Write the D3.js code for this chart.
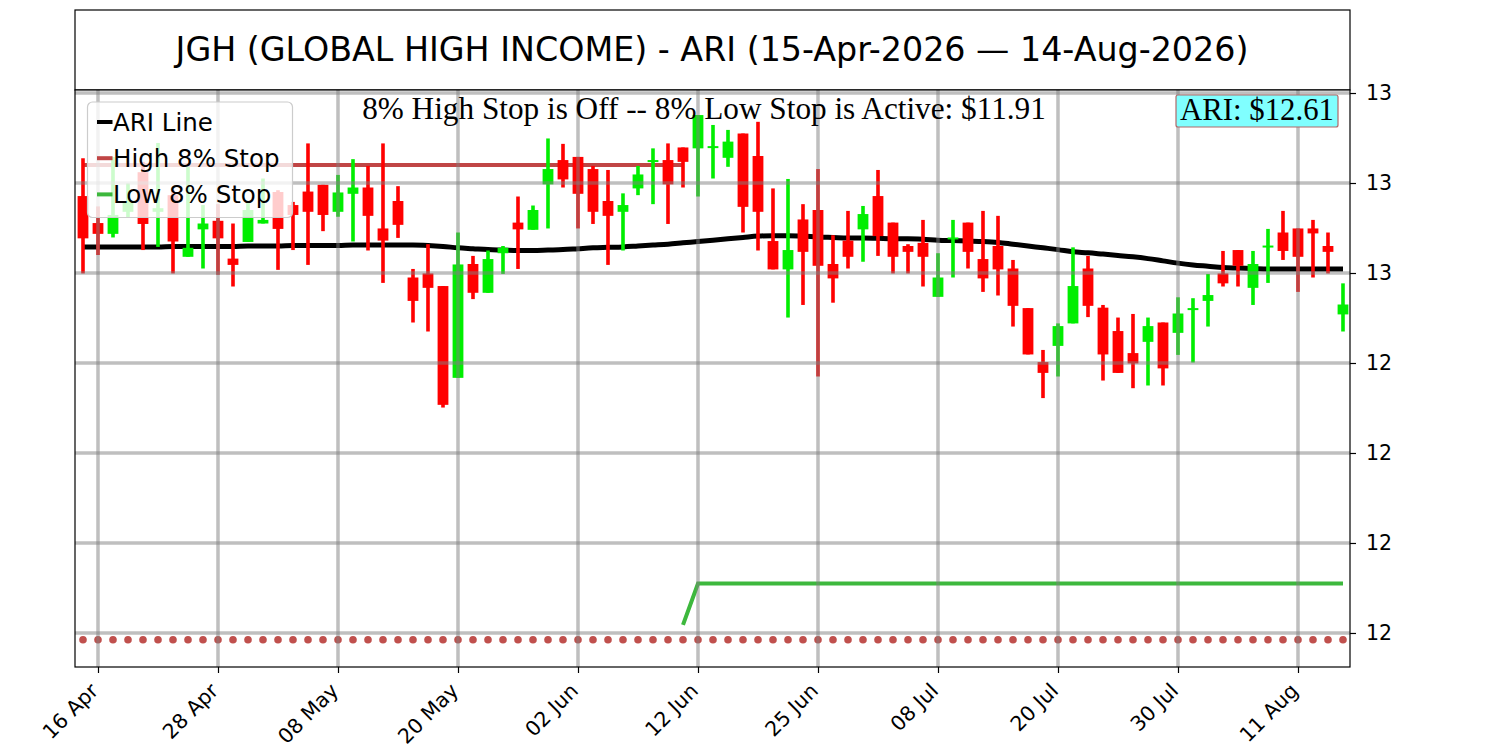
<!DOCTYPE html>
<html><head><meta charset="utf-8">
<script src="https://cdn.jsdelivr.net/npm/d3@7"></script>
<style>body{margin:0;background:#fff}svg{display:block}</style>
</head><body><svg id="c" width="1500" height="750"></svg>
<script>
const dates = [
"2026-04-15","2026-04-16","2026-04-17","2026-04-20","2026-04-21","2026-04-22","2026-04-23","2026-04-24","2026-04-27","2026-04-28","2026-04-29","2026-04-30",
"2026-05-01","2026-05-04","2026-05-05","2026-05-06","2026-05-07","2026-05-08","2026-05-11","2026-05-12","2026-05-13","2026-05-14","2026-05-15","2026-05-18","2026-05-19","2026-05-20","2026-05-21","2026-05-22","2026-05-26","2026-05-27","2026-05-28","2026-05-29",
"2026-06-01","2026-06-02","2026-06-03","2026-06-04","2026-06-05","2026-06-08","2026-06-09","2026-06-10","2026-06-11","2026-06-12","2026-06-15","2026-06-16","2026-06-17","2026-06-18","2026-06-22","2026-06-23","2026-06-24","2026-06-25","2026-06-26","2026-06-29","2026-06-30",
"2026-07-01","2026-07-02","2026-07-06","2026-07-07","2026-07-08","2026-07-09","2026-07-10","2026-07-13","2026-07-14","2026-07-15","2026-07-16","2026-07-17","2026-07-20","2026-07-21","2026-07-22","2026-07-23","2026-07-24","2026-07-27","2026-07-28","2026-07-29","2026-07-30","2026-07-31",
"2026-08-03","2026-08-04","2026-08-05","2026-08-06","2026-08-07","2026-08-10","2026-08-11","2026-08-12","2026-08-13","2026-08-14"];

const opens = [
12.771,12.711,12.687,12.736,12.824,12.736,12.773,12.636,12.697,12.716,
12.632,12.669,12.710,12.780,12.751,12.781,12.796,12.736,12.776,12.790,
12.699,12.760,12.590,12.599,12.571,12.367,12.620,12.556,12.644,12.712,
12.696,12.797,12.851,12.858,12.831,12.760,12.736,12.788,12.847,12.851,
12.879,12.877,12.878,12.856,12.910,12.860,12.671,12.608,12.719,12.740,
12.620,12.672,12.697,12.771,12.712,12.660,12.667,12.547,12.676,12.712,
12.631,12.660,12.610,12.522,12.402,12.438,12.488,12.610,12.523,12.471,
12.422,12.447,12.490,12.467,12.520,12.538,12.599,12.651,12.567,12.657,
12.690,12.699,12.699,12.660,12.508];
const highs = [
12.855,12.748,12.858,12.799,12.847,12.889,12.784,12.836,12.751,12.753,
12.710,12.758,12.810,12.784,12.758,12.888,12.796,12.818,12.853,12.838,
12.888,12.793,12.609,12.664,12.571,12.690,12.638,12.650,12.660,12.770,
12.750,12.899,12.887,12.858,12.838,12.829,12.777,12.838,12.877,12.888,
12.879,12.951,12.929,12.918,12.910,12.936,12.788,12.809,12.753,12.831,
12.684,12.738,12.749,12.829,12.712,12.664,12.718,12.644,12.718,12.712,
12.738,12.727,12.629,12.522,12.429,12.488,12.657,12.638,12.529,12.501,
12.509,12.501,12.490,12.546,12.544,12.598,12.649,12.651,12.649,12.698,
12.738,12.699,12.718,12.690,12.577];
const lows = [
12.599,12.640,12.679,12.724,12.651,12.658,12.599,12.636,12.610,12.596,
12.570,12.669,12.710,12.607,12.651,12.618,12.693,12.725,12.670,12.650,
12.578,12.678,12.490,12.470,12.301,12.367,12.542,12.556,12.598,12.609,
12.696,12.699,12.790,12.699,12.709,12.618,12.650,12.773,12.753,12.709,
12.790,12.770,12.810,12.836,12.690,12.650,12.608,12.501,12.529,12.370,
12.534,12.610,12.625,12.638,12.599,12.599,12.570,12.547,12.590,12.610,
12.558,12.550,12.481,12.419,12.322,12.370,12.488,12.502,12.361,12.378,
12.344,12.350,12.350,12.418,12.401,12.481,12.570,12.570,12.529,12.578,
12.629,12.558,12.590,12.599,12.470];
const closes = [
12.677,12.687,12.729,12.758,12.709,12.744,12.670,12.656,12.710,12.677,
12.618,12.740,12.718,12.698,12.729,12.736,12.729,12.779,12.790,12.727,
12.672,12.707,12.538,12.567,12.307,12.619,12.556,12.631,12.656,12.697,
12.740,12.831,12.808,12.776,12.736,12.727,12.751,12.819,12.851,12.797,
12.847,12.951,12.882,12.892,12.747,12.736,12.608,12.651,12.647,12.616,
12.588,12.636,12.731,12.682,12.636,12.647,12.636,12.590,12.679,12.647,
12.588,12.608,12.527,12.419,12.378,12.482,12.571,12.527,12.419,12.378,
12.399,12.482,12.388,12.510,12.522,12.551,12.577,12.616,12.620,12.661,
12.649,12.636,12.688,12.647,12.530];
const ariLine = [
12.658,12.658,12.658,12.658,12.658,12.658,12.659,12.659,12.659,12.659,
12.659,12.660,12.660,12.660,12.661,12.661,12.661,12.661,12.662,12.662,
12.662,12.662,12.662,12.661,12.659,12.656,12.654,12.652,12.651,12.650,
12.650,12.651,12.652,12.654,12.656,12.657,12.658,12.660,12.662,12.664,
12.667,12.670,12.673,12.676,12.679,12.682,12.683,12.683,12.682,12.680,
12.679,12.678,12.678,12.677,12.676,12.676,12.675,12.673,12.672,12.671,
12.670,12.668,12.664,12.660,12.656,12.652,12.647,12.645,12.642,12.639,
12.636,12.632,12.627,12.622,12.618,12.615,12.612,12.611,12.610,12.609,
12.609,12.609,12.609,12.609,12.609];
// high stop active through 11-Jun, low stop from 11-Jun on
const highStopValue = 12.84;
const highStopLastIndex = 40;
const lowStopPoints = [[40, 11.818], [41, 11.91], [84, 11.91]];
const offMarkerValue = 11.785;
const tickDates = ["2026-04-16","2026-04-28","2026-05-08","2026-05-20","2026-06-02","2026-06-12","2026-06-25","2026-07-08","2026-07-20","2026-07-30","2026-08-11"];
const yTicks = [11.8, 12.0, 12.2, 12.4, 12.6, 12.8, 13.0];
const titleText = "JGH (GLOBAL HIGH INCOME) - ARI (15-Apr-2026 \u2014 14-Aug-2026)";
const subtitleText = "8% High Stop is Off -- 8% Low Stop is Active: $11.91";
const ariLabel = "ARI: $12.61";
const legendItems = [["ARI Line","#000000"],["High 8% Stop","#c04545"],["Low 8% Stop","#3db83d"]];

const svg = d3.select("#c");
const L = 75, R = 1350, T = 90, B = 667;
const x = d3.scaleLinear().domain([-0.533, 84.467]).range([L, R]);
const y = d3.scaleLinear().domain([11.7244, 13.0067]).range([B, T]);
const idx = d3.range(dates.length);
const parse = d3.timeParse("%Y-%m-%d");
const fmt = d3.timeFormat("%d %b");
const tickIdx = tickDates.map(d => dates.indexOf(d));

// title box
svg.append("rect").attr("x", L).attr("y", 10).attr("width", R - L).attr("height", 80)
  .attr("fill", "#fff").attr("stroke", "#000").attr("stroke-width", 1.2);
function fit(t, w) {
  const fs = parseFloat(t.attr("font-size"));
  const len = t.node().getComputedTextLength();
  t.attr("font-size", fs * w / len);
}
const tt = svg.append("text").attr("x", 712).attr("y", 61).attr("text-anchor", "middle")
  .attr("font-family", "DejaVu Sans").attr("font-size", 28).text(titleText);
fit(tt, 1073);

// plot frame background
svg.append("rect").attr("x", L).attr("y", T).attr("width", R - L).attr("height", B - T).attr("fill", "#fff");

const g = svg.append("g");
// high stop
g.append("path").datum(idx.filter(i => i <= highStopLastIndex))
  .attr("d", d3.line().x(i => x(i)).y(() => y(highStopValue)))
  .attr("fill", "none").attr("stroke", "#c04545").attr("stroke-width", 4);
// low stop
g.append("path").datum(lowStopPoints)
  .attr("d", d3.line().x(d => x(d[0])).y(d => y(d[1])))
  .attr("fill", "none").attr("stroke", "#3db83d").attr("stroke-width", 4);
// off markers
g.selectAll("circle.off").data(idx).join("circle").attr("class", "off")
  .attr("cx", i => x(i)).attr("cy", y(offMarkerValue)).attr("r", 3.8).attr("fill", "#c0504d");
// ARI line
g.append("path").datum(idx)
  .attr("d", d3.line().x(i => x(i)).y(i => y(ariLine[i])).curve(d3.curveMonotoneX))
  .attr("fill", "none").attr("stroke", "#000").attr("stroke-width", 5);

// candles
const col = i => closes[i] >= opens[i] ? "#00ee00" : "#ff0000";
const bw = x(1) - x(0);
g.selectAll("rect.wick").data(idx).join("rect").attr("class", "wick")
  .attr("x", i => x(i) - 1.8).attr("width", 3.6)
  .attr("y", i => y(highs[i])).attr("height", i => Math.max(1, y(lows[i]) - y(highs[i])))
  .attr("fill", col);
g.selectAll("rect.body").data(idx).join("rect").attr("class", "body")
  .attr("x", i => x(i) - bw * 0.36).attr("width", bw * 0.72)
  .attr("y", i => y(Math.max(opens[i], closes[i])))
  .attr("height", i => Math.max(2, Math.abs(y(opens[i]) - y(closes[i]))))
  .attr("fill", col);

// grid on top
const grid = svg.append("g").attr("stroke", "#808080").attr("stroke-opacity", 0.5).attr("stroke-width", 3.5);
grid.selectAll("line.h").data(yTicks).join("line")
  .attr("x1", L).attr("x2", R).attr("y1", d => y(d)).attr("y2", d => y(d));
grid.selectAll("line.v").data(tickIdx).join("line")
  .attr("x1", d => x(d)).attr("x2", d => x(d)).attr("y1", T).attr("y2", B);

// frame
svg.append("rect").attr("x", L).attr("y", T).attr("width", R - L).attr("height", B - T)
  .attr("fill", "none").attr("stroke", "#000").attr("stroke-width", 1.2);

// axes
const ya = svg.append("g").attr("transform", `translate(${R},0)`)
  .call(d3.axisRight(y).tickValues(yTicks).tickFormat(d3.format(".0f")).tickSize(6).tickPadding(10));
ya.select(".domain").remove();
ya.selectAll("text").attr("font-family", "DejaVu Sans").attr("font-size", 20.5);
ya.selectAll("line").attr("stroke-width", 1.2);

const xa = svg.append("g").attr("transform", `translate(0,${B})`)
  .call(d3.axisBottom(x).tickValues(tickIdx).tickFormat(i => fmt(parse(dates[i]))).tickSize(6));
xa.select(".domain").remove();
xa.selectAll("line").attr("stroke-width", 1.2);
xa.selectAll("text").attr("font-family", "DejaVu Sans").attr("font-size", 20.5)
  .attr("text-anchor", "end").attr("x", 0).attr("y", 0).attr("dy", 0)
  .attr("transform", "translate(1,25) rotate(-45)");

// subtitle
const st = svg.append("text").attr("x", 704).attr("y", 119).attr("text-anchor", "middle")
  .attr("font-family", "Liberation Serif").attr("font-size", 26).text(subtitleText);
fit(st, 684);

// ARI box
svg.append("rect").attr("x", 1176).attr("y", 95).attr("width", 162).attr("height", 32).attr("rx", 2)
  .attr("fill", "#80ffff").attr("stroke", "#b06a6a").attr("stroke-width", 1.2);
const at = svg.append("text").attr("x", 1257).attr("y", 120).attr("text-anchor", "middle")
  .attr("font-family", "Liberation Serif").attr("font-size", 26).text(ariLabel);
fit(at, 154);

// legend
const lg = svg.append("g");
lg.append("rect").attr("x", 87.5).attr("y", 102).attr("width", 205).attr("height", 115.5).attr("rx", 5)
  .attr("fill", "#fff").attr("fill-opacity", 0.8).attr("stroke", "#cccccc").attr("stroke-width", 1.2);
legendItems.forEach((d, k) => {
  const yy = 122 + k * 36.2;
  lg.append("line").attr("x1", 97).attr("x2", 112.5).attr("y1", yy).attr("y2", yy)
    .attr("stroke", d[1]).attr("stroke-width", 4);
  lg.append("text").attr("x", 113).attr("y", yy + 8.7).attr("font-family", "DejaVu Sans")
    .attr("font-size", 24.5).text(d[0]);
});
</script></body></html>
